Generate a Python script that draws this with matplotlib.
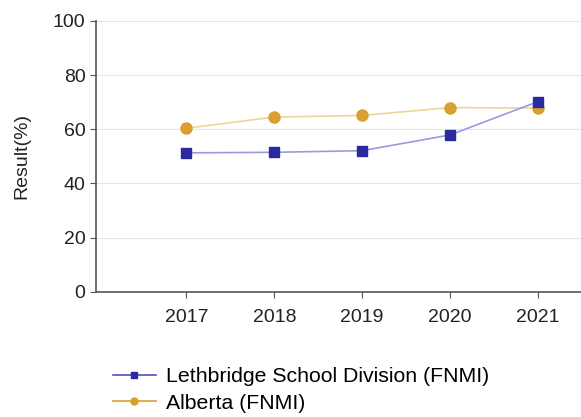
import matplotlib
matplotlib.use("Agg")
import matplotlib.pyplot as plt
from matplotlib.lines import Line2D

years = ["2017", "2018", "2019", "2020", "2021"]
lethbridge = [51.3, 51.5, 52.1, 57.9, 70.2]
alberta = [60.4, 64.5, 65.1, 68.0, 67.8]

plt.rcParams['font.family'] = ['Liberation Sans', 'DejaVu Sans']

fig = plt.figure(figsize=(5.81, 4.17), dpi=100)
ax = fig.add_axes([0.165, 0.30, 0.835, 0.65])

x = list(range(len(years)))

# lignes d'abord, marqueurs par-dessus
ax.plot(x, alberta, color="#efd49a", lw=1.2, zorder=2)
ax.plot(x, lethbridge, color="#9a9ae0", lw=1.2, zorder=2)
ax.plot(x, alberta, ls="none", marker="o", ms=8, color="#d9a030", zorder=3)
ax.plot(x, lethbridge, ls="none", marker="s", ms=7.5, color="#2a2a9e", zorder=4)

ax.set_xlim(-1.03, 4.49)
ax.set_ylim(0, 100)
ax.set_yticks([0, 20, 40, 60, 80, 100])
ax.set_xticks(x)
ax.set_xticklabels(years)
ax.grid(axis="y", color="#e6e6e6", lw=0.8)
ax.set_axisbelow(True)

for s in ["top", "right"]:
    ax.spines[s].set_visible(False)
for s in ["left", "bottom"]:
    ax.spines[s].set_color("#555555")
    ax.spines[s].set_linewidth(1.2)
ax.tick_params(colors="#555555", labelcolor="#222222", labelsize=14, length=4)
ax.tick_params(axis="x", pad=8)
ax.set_ylabel("Result(%)", fontsize=14, color="#222222", labelpad=16)

handles = [
    Line2D([], [], color="#5050c0", lw=1.2, marker="s", ms=5, mfc="#2a2a9e", mec="#2a2a9e"),
    Line2D([], [], color="#d9a030", lw=1.2, marker="o", ms=5, mfc="#d9a030", mec="#d9a030"),
]
fig.legend(handles, ["Lethbridge School Division (FNMI)", "Alberta (FNMI)"],
           loc="upper left", bbox_to_anchor=(0.18, 0.14), frameon=False,
           fontsize=15.3, handlelength=2.0, labelspacing=0.35, borderaxespad=0,
           handletextpad=0.5)

fig.savefig("out.png", dpi=100)
